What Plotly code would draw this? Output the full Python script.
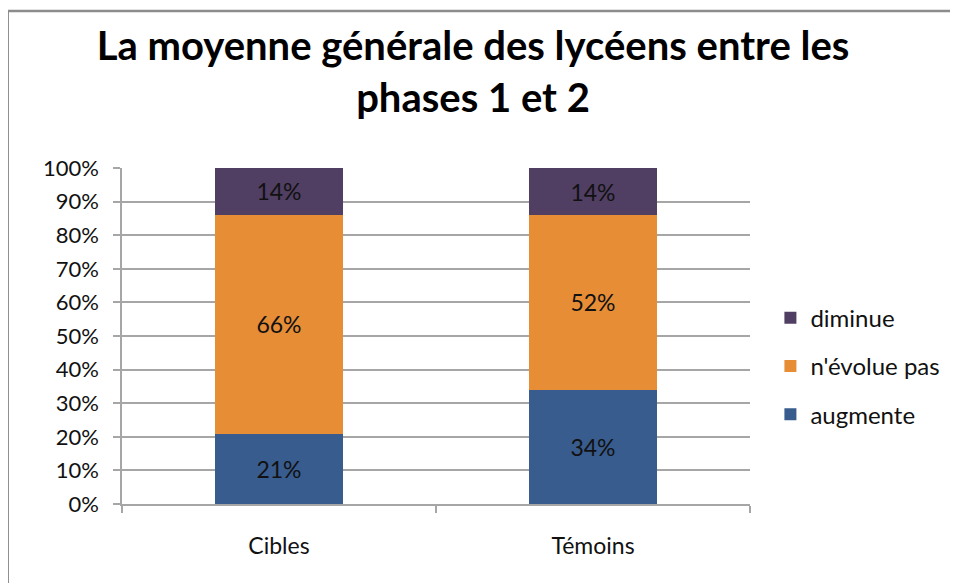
import plotly.graph_objects as go

categories = ["Cibles", "Témoins"]
augmente = [21, 34]
n_evolue_pas = [66, 52]
diminue = [14, 14]
series_names = ["augmente", "n'évolue pas", "diminue"]
colors = ["#385C8E", "#E68D36", "#503F63"]
tick_vals = [0, 10, 20, 30, 40, 50, 60, 70, 80, 90, 100]
tick_text = [f"{v}%" for v in tick_vals]

FONT = "Lato"
W, H = 950, 575  # page has 8px body margin

fig = go.Figure()
for i, (name, vals) in enumerate(zip(series_names, [augmente, n_evolue_pas, diminue])):
    fig.add_trace(go.Bar(
        x=categories, y=vals, name=name,
        marker=dict(color=colors[i], line=dict(width=0)),
        text=[f"{v}%" for v in vals],
        textposition="inside", insidetextanchor="middle",
        textfont=dict(family=FONT, size=23, color="#111111"),
        legendgroup=name, legendrank=3 - i,
    ))

fig.update_layout(
    barmode="stack", barnorm="percent", bargap=0.59,
    width=W, height=H,
    margin=dict(l=114, r=208, t=160, b=79),
    paper_bgcolor="white", plot_bgcolor="white",
    title=dict(
        text="<b>La moyenne générale des lycéens entre les<br>phases 1 et 2</b>",
        x=(473 - 8) / W, xanchor="center", y=1 - 52 / H, yanchor="middle",
        font=dict(family=FONT, size=40, color="#000000"),
    ),
    legend=dict(
        x=1.0325, y=0.41, xanchor="left", yanchor="middle",
        traceorder="grouped", tracegroupgap=14,
        font=dict(family=FONT, size=24, color="#111111"),
        itemwidth=30, bgcolor="rgba(0,0,0,0)",
    ),
    yaxis=dict(
        range=[0, 100], tickvals=tick_vals, ticktext=tick_text,
        showgrid=True, gridcolor="#A6A6A6", gridwidth=1.5,
        ticks="outside", ticklen=7, tickcolor="#A6A6A6", tickwidth=1.5,
        showline=True, linecolor="#A6A6A6", linewidth=1.5,
        tickfont=dict(family=FONT, size=22, color="#111111"),
        ticklabelstandoff=10,
        zeroline=False,
    ),
    xaxis=dict(
        tickson="boundaries", ticks="outside", ticklen=7,
        tickcolor="#A6A6A6", tickwidth=1.5,
        showline=True, linecolor="#A6A6A6", linewidth=1.5,
        tickfont=dict(family=FONT, size=23, color="#111111"),
        ticklabelstandoff=21,
        showgrid=False,
    ),
    shapes=[dict(
        type="path", xref="paper", yref="paper",
        path="M -0.182,-0.4 L -0.182,1.467 L 1.5,1.467",
        line=dict(color="#8C8C8C", width=2.5),
    )],
)

fig.write_html("out.html")
